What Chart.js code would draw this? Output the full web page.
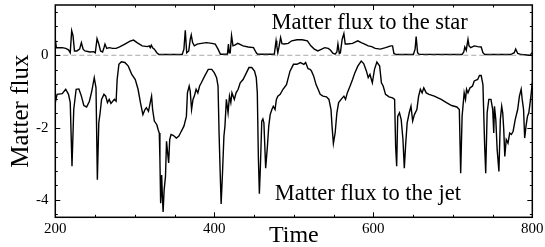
<!DOCTYPE html>
<html>
<head>
<meta charset="utf-8">
<script src="https://cdn.jsdelivr.net/npm/chart.js@4.4.0/dist/chart.umd.min.js"></script>
<style>
  html, body { margin: 0; padding: 0; background: #fff; }
  #wrap { width: 545px; height: 247px; }
</style>
</head>
<body>
<div id="wrap"><canvas id="fluxChart" width="545" height="247"></canvas></div>
<script>
// Matter flux to the star (upper curve)
const starX = [200.0, 201.3, 208.7, 213.1, 216.6, 218.8, 220.6, 222.3, 224.1, 227.1, 230.6, 232.8, 235.0, 237.2, 243.7, 248.1, 250.3, 252.5, 254.7, 256.9,
  259.5, 261.2, 262.5, 264.7, 267.8, 272.2, 276.5, 280.9, 287.5, 294.0, 298.4, 302.8, 309.3, 315.9, 318.1, 319.4, 320.7, 322.4, 324.6, 327.7,
  330.3, 335.6, 348.7, 359.6, 361.8, 363.5, 365.3, 367.9, 369.7, 371.0, 372.7, 374.9, 378.4, 383.7, 390.2, 396.8, 401.2, 404.7, 407.7, 416.5,
  417.8, 418.7, 420.0, 421.7, 423.5, 425.7, 429.6, 436.2, 442.7, 449.3, 452.8, 454.5, 475.5, 477.7, 478.6, 479.9, 481.2, 483.4, 485.1, 487.8,
  493.0, 497.4, 504.0, 510.5, 517.1, 521.4, 525.8, 530.2, 533.2, 538.9, 543.3, 546.3, 549.0, 552.0, 554.2, 555.5, 557.3, 558.6, 560.8, 563.0,
  564.7, 567.3, 573.9, 580.5, 584.8, 589.2, 593.6, 598.0, 602.4, 608.9, 615.4, 622.0, 624.2, 625.9, 628.6, 650.4, 652.6, 653.9, 655.7, 657.4,
  711.6, 713.8, 715.1, 716.9, 719.1, 720.4, 722.6, 727.0, 731.3, 735.7, 737.9, 740.1, 772.9, 777.3, 779.1, 781.7, 786.1, 797.0, 800.0];
const starY = [0.44, 0.21, 0.21, 0.19, 0.15, 0.07, 0.68, 0.54, 0.12, 0.12, 0.17, 0.35, 0.17, 0.12, 0.09, 0.10, 0.07, 0.46, 0.31, 0.12,
  0.09, 0.21, 0.31, 0.19, 0.21, 0.19, 0.19, 0.23, 0.31, 0.39, 0.42, 0.35, 0.26, 0.24, 0.26, 0.21, 0.28, 0.21, 0.17, 0.07,
  0.02, 0.02, 0.02, 0.02, 0.17, 0.69, 0.07, 0.12, 0.44, 0.56, 0.35, 0.26, 0.31, 0.33, 0.35, 0.33, 0.31, 0.17, 0.03, 0.03,
  0.31, 0.07, 0.07, 0.54, 0.26, 0.28, 0.33, 0.26, 0.23, 0.21, 0.07, 0.03, 0.03, 0.40, 0.26, 0.07, 0.21, 0.49, 0.32, 0.31,
  0.33, 0.40, 0.43, 0.43, 0.40, 0.26, 0.17, 0.12, 0.15, 0.21, 0.19, 0.14, 0.06, 0.03, 0.09, 0.31, 0.05, 0.07, 0.44, 0.60,
  0.31, 0.31, 0.33, 0.40, 0.35, 0.31, 0.26, 0.24, 0.19, 0.17, 0.21, 0.26, 0.26, 0.05, 0.02, 0.02, 0.17, 0.52, 0.07, 0.03,
  0.02, 0.09, 0.23, 0.14, 0.44, 0.26, 0.21, 0.26, 0.24, 0.23, 0.07, 0.02, 0.02, 0.07, 0.17, 0.05, 0.02, 0.00, 0.07];

// Matter flux to the jet (lower curve)
const jetX = [200.0, 202.2, 208.7, 213.1, 216.6, 218.8, 221.0, 223.2, 226.2, 229.7, 232.8, 235.9, 239.4, 242.9, 245.9, 249.0, 251.2, 252.9, 254.7, 256.4,
  258.2, 261.2, 263.4, 265.6, 267.8, 270.0, 274.3, 276.5, 277.8, 280.0, 283.1, 287.5, 291.8, 296.2, 300.6, 304.1, 307.1, 310.2, 312.8, 314.6,
  317.2, 319.4, 321.1, 322.4, 324.6, 327.7, 329.4, 330.8, 331.6, 332.5, 333.8, 334.7, 335.6, 336.9, 338.6, 339.9, 341.3, 342.6, 343.9, 345.6,
  348.7, 352.2, 355.2, 357.4, 361.8, 364.9, 366.2, 368.4, 369.7, 371.4, 373.2, 374.9, 377.1, 379.3, 381.5, 383.7, 388.0, 392.4, 396.8, 399.9,
  402.9, 404.7, 406.0, 407.3, 408.6, 410.3, 412.1, 413.4, 415.2, 417.3, 419.1, 420.8, 422.2, 425.2, 427.4, 430.0, 432.6, 436.2, 440.5, 443.6,
  447.1, 450.6, 452.8, 454.1, 455.4, 456.7, 458.0, 459.7, 461.1, 462.4, 464.6, 466.8, 468.5, 470.3, 472.4, 474.2, 476.4, 478.1, 479.9, 482.9,
  486.4, 490.8, 495.2, 499.6, 503.9, 508.3, 512.7, 514.9, 517.9, 520.5, 522.3, 524.9, 528.0, 530.6, 533.2, 536.7, 541.1, 544.2, 546.8, 548.1,
  549.8, 552.0, 554.2, 556.4, 559.5, 563.0, 565.1, 567.3, 570.8, 573.9, 576.9, 580.5, 584.8, 587.9, 591.4, 593.6, 595.8, 598.8, 601.5, 604.5,
  608.0, 610.2, 612.4, 615.4, 619.8, 624.2, 626.8, 628.1, 629.4, 630.7, 632.9, 635.1, 637.3, 639.0, 640.8, 642.6, 645.2, 647.4, 649.5, 651.7,
  654.8, 657.0, 659.2, 661.4, 663.5, 666.6, 670.1, 676.7, 685.4, 692.0, 698.5, 705.1, 708.2, 709.9, 711.7, 714.3, 716.0, 717.3, 719.1, 721.7,
  724.8, 727.0, 731.3, 733.5, 735.7, 737.9, 740.1, 741.4, 743.2, 745.3, 748.0, 750.2, 751.5, 752.4, 754.1, 755.8, 758.0, 759.8, 761.5, 762.8,
  764.1, 765.4, 767.2, 769.4, 771.6, 773.7, 775.9, 778.5, 781.6, 783.8, 786.0, 787.3, 789.0, 790.4, 792.1, 793.9, 795.6, 797.8, 800.0];
const jetY = [-1.31, -1.08, -1.06, -0.94, -1.08, -1.31, -3.07, -1.50, -0.94, -0.93, -1.13, -1.39, -1.43, -1.27, -0.99, -0.62, -0.90, -3.44, -1.87, -1.59,
  -1.22, -1.08, -1.13, -1.31, -1.22, -1.33, -1.22, -1.27, -0.67, -0.25, -0.18, -0.20, -0.30, -0.53, -0.67, -0.94, -1.31, -1.64, -1.50, -1.45,
  -1.55, -1.31, -1.13, -1.50, -1.82, -1.92, -2.06, -2.15, -2.89, -4.09, -3.31, -3.91, -4.33, -3.72, -3.35, -2.38, -2.70, -2.98, -2.33, -2.19,
  -2.22, -2.29, -2.24, -2.15, -1.96, -1.69, -1.04, -0.85, -0.99, -1.50, -1.22, -1.13, -0.94, -1.04, -0.85, -0.76, -0.57, -0.39, -0.39, -0.48,
  -0.62, -0.85, -2.15, -3.17, -4.11, -3.26, -2.24, -1.96, -1.22, -1.59, -1.13, -1.31, -1.04, -1.22, -1.04, -0.94, -0.76, -0.67, -0.48, -0.34,
  -0.34, -0.44, -0.62, -1.04, -2.80, -3.83, -3.07, -1.82, -1.76, -1.87, -3.12, -2.52, -1.96, -1.64, -1.50, -1.41, -1.50, -1.22, -1.13, -1.08,
  -0.94, -0.81, -0.44, -0.25, -0.25, -0.20, -0.25, -0.20, -0.37, -0.39, -0.44, -0.57, -0.81, -0.94, -1.08, -1.13, -1.15, -1.22, -1.50, -1.96,
  -2.44, -2.15, -1.59, -1.31, -1.22, -1.13, -1.22, -1.04, -0.85, -0.67, -0.48, -0.30, -0.16, -0.23, -0.44, -0.62, -0.53, -0.76, -0.39, -0.19,
  -0.30, -0.76, -0.85, -1.08, -1.15, -1.18, -1.22, -2.52, -3.07, -1.69, -1.59, -1.78, -2.33, -3.12, -2.43, -1.87, -1.59, -1.41, -1.82, -1.64,
  -1.50, -1.13, -0.94, -1.04, -0.90, -1.04, -1.08, -1.13, -1.22, -1.31, -1.39, -1.43, -1.50, -3.26, -1.69, -1.04, -1.22, -0.94, -1.04, -0.90,
  -0.85, -0.71, -0.67, -0.56, -0.56, -0.81, -2.52, -3.26, -1.59, -1.22, -1.22, -1.50, -2.15, -1.41, -1.78, -2.61, -3.21, -1.78, -1.41, -1.59,
  -2.06, -2.80, -2.33, -2.43, -2.15, -2.19, -2.10, -1.78, -1.50, -1.13, -0.94, -1.22, -1.50, -2.29, -1.96, -1.69, -1.59, -1.22, -0.76];

// dashed zero reference
const zeroX = [200, 800];
const zeroY = [0, 0];

// tick labels
const xTicks = [200, 400, 600, 800];
const yTicks = [-4, -2, 0];

const serif = "'Liberation Serif', 'Times New Roman', serif";

function pts(xs, ys) {
  return xs.map((x, i) => ({ x: x, y: ys[i] }));
}

// frame, inward ticks on all sides and the two in-plot labels
const framePlugin = {
  id: 'frame',
  afterDraw(chart) {
    const ctx = chart.ctx;
    const a = chart.chartArea;
    const xs = chart.scales.x, ys = chart.scales.y;
    ctx.save();
    ctx.strokeStyle = '#000';
    ctx.lineWidth = 1;
    for (let v = 200; v <= 800; v += 50) {
      const px = Math.round(xs.getPixelForValue(v)) + 0.5;
      const len = (v % 200 === 0) ? 5 : 2.5;
      ctx.beginPath();
      ctx.moveTo(px, a.bottom); ctx.lineTo(px, a.bottom - len);
      ctx.moveTo(px, a.top); ctx.lineTo(px, a.top + len);
      ctx.stroke();
    }
    for (let k = -11; k <= 3; k++) {
      const v = k * 0.4;
      const py = Math.round(ys.getPixelForValue(v)) + 0.5;
      const len = (k % 5 === 0) ? 5 : 2.5;
      ctx.beginPath();
      ctx.moveTo(a.left, py); ctx.lineTo(a.left + len, py);
      ctx.moveTo(a.right, py); ctx.lineTo(a.right - len, py);
      ctx.stroke();
    }
    ctx.lineWidth = 1.5;
    ctx.strokeRect(a.left, a.top, a.right - a.left, a.bottom - a.top);

    ctx.fillStyle = '#000';
    ctx.font = '22.5px ' + serif;
    ctx.textAlign = 'left';
    ctx.textBaseline = 'alphabetic';
    ctx.fillText('Matter flux to the star', xs.getPixelForValue(472), ys.getPixelForValue(0.74));
    ctx.fillText('Matter flux to the jet', xs.getPixelForValue(476), ys.getPixelForValue(-4.0));
    ctx.restore();
  }
};

const fluxChart = new Chart(document.getElementById('fluxChart'), {
  type: 'line',
  data: {
    datasets: [{
      label: 'zero',
      data: pts(zeroX, zeroY),
      borderColor: '#a8a8a8',
      borderWidth: 1,
      borderDash: [5, 3],
      pointRadius: 0
    }, {
      label: 'Matter flux to the star',
      data: pts(starX, starY),
      borderColor: '#000',
      borderWidth: 1.4,
      pointRadius: 0,
      tension: 0
    }, {
      label: 'Matter flux to the jet',
      data: pts(jetX, jetY),
      borderColor: '#000',
      borderWidth: 1.4,
      pointRadius: 0,
      tension: 0
    }]
  },
  options: {
    responsive: false,
    animation: false,
    layout: { padding: { left: 0, right: 12.7, top: 5, bottom: 0 } },
    plugins: { legend: { display: false }, tooltip: { enabled: false } },
    scales: {
      x: {
        type: 'linear',
        min: 200,
        max: 800,
        grid: { display: false, drawTicks: false },
        border: { display: false },
        afterBuildTicks: s => { s.ticks = xTicks.map(v => ({ value: v })); },
        afterFit: s => { s.height = 29.7; s.paddingLeft = 0; s.paddingRight = 0; },
        ticks: { color: '#000', padding: 3, maxRotation: 0, font: { family: serif, size: 15 } },
        title: { display: true, text: 'Time', color: '#000', font: { family: serif, size: 24 }, padding: { top: 0, bottom: -3 } }
      },
      y: {
        min: -4.48,
        max: 1.39,
        grid: { display: false, drawTicks: false },
        border: { display: false },
        afterBuildTicks: s => { s.ticks = yTicks.map(v => ({ value: v })); },
        afterFit: s => { s.width = 55.3; s.paddingTop = 0; s.paddingBottom = 0; },
        ticks: { color: '#000', padding: 6.7, font: { family: serif, size: 15 } },
        title: { display: true, text: 'Matter flux', color: '#000', font: { family: serif, size: 25 }, padding: { top: 6.5, bottom: 0 } }
      }
    }
  },
  plugins: [framePlugin]
});
</script>
</body>
</html>
